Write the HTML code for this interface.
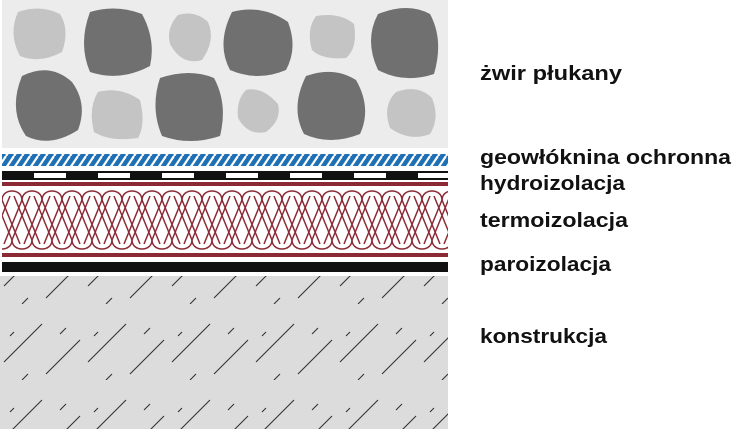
<!DOCTYPE html>
<html><head><meta charset="utf-8"><style>
html,body{margin:0;padding:0;background:#fff;width:750px;height:429px;overflow:hidden}
svg{display:block}
text{font-family:"Liberation Sans",sans-serif;font-weight:bold;font-size:20px;fill:#111}
</style></head><body>
<svg width="750" height="429" viewBox="0 0 750 429" xmlns="http://www.w3.org/2000/svg">
<defs>
<pattern id="hatch" width="8" height="12" patternUnits="userSpaceOnUse">
<rect width="8" height="12" fill="#1f6fb4"/>
<path d="M-2,12 L6,0 M6,12 L14,0" stroke="#fff" stroke-width="2.2"/>
</pattern>
<pattern id="conc" width="84" height="76" patternUnits="userSpaceOnUse">
<path d="M4,58 L42,20 M46,70 L80,36 M22,76 L28,70 M60,30 L66,24 M10,32 L14,28" stroke="#333" stroke-width="1.1" fill="none"/>
</pattern>
<pattern id="ins" x="2" y="0" width="20" height="429" patternUnits="userSpaceOnUse">
<g fill="none" stroke="#8b2a35" stroke-width="1.5">
<path d="M2,244 L20,200 C20,188 0,188 0,200 L18,244"/>
<path d="M-18,244 L0,200 C0,188 -20,188 -20,200 L-2,244"/>
<path d="M22,244 L40,200 C40,188 20,188 20,200 L38,244"/>
<path d="M-8,196 L10,240 C10,252 -10,252 -10,240 L8,196"/>
<path d="M12,196 L30,240 C30,252 10,252 10,240 L28,196"/>
</g>
</pattern>
</defs>
<!-- gravel -->
<rect x="2" y="0" width="446" height="148" fill="#ececec"/>
<g fill="#c4c4c4">
<path d="M18,12 Q40,4 60,14 Q70,30 62,52 Q40,64 20,56 Q8,34 18,12Z"/>
<path d="M178,15 Q195,10 208,22 Q216,40 202,60 Q182,66 170,44 Q166,28 178,15Z"/>
<path d="M316,16 Q340,12 354,24 Q358,48 346,58 Q322,60 312,50 Q306,30 316,16Z"/>
<path d="M98,92 Q120,86 140,100 Q146,124 138,138 Q110,142 94,132 Q88,108 98,92Z"/>
<path d="M246,90 Q262,86 278,104 Q282,120 266,132 Q248,136 238,118 Q236,100 246,90Z"/>
<path d="M396,92 Q418,84 432,98 Q440,118 430,134 Q410,142 390,128 Q382,106 396,92Z"/>
</g>
<g fill="#707070">
<path d="M90,12 Q116,4 142,14 Q156,40 150,66 Q120,82 90,72 Q78,44 90,12Z"/>
<path d="M232,12 Q262,4 288,22 Q298,48 286,70 Q258,82 230,70 Q216,44 232,12Z"/>
<path d="M378,14 Q408,2 430,14 Q444,40 434,74 Q404,84 378,70 Q364,40 378,14Z"/>
<path d="M22,76 Q50,62 72,82 Q88,104 78,130 Q50,148 26,136 Q8,110 22,76Z"/>
<path d="M160,78 Q190,68 214,78 Q228,104 220,136 Q190,146 162,136 Q150,108 160,78Z"/>
<path d="M306,76 Q334,66 356,80 Q372,108 360,134 Q330,146 304,134 Q290,108 306,76Z"/>
</g>
<!-- geotextile -->
<rect x="2" y="154" width="446" height="12" fill="url(#hatch)"/>
<!-- hydro -->
<rect x="2" y="171" width="446" height="9" fill="#111"/>
<g fill="#fff">
<rect x="34" y="173" width="32" height="5"/><rect x="98" y="173" width="32" height="5"/><rect x="162" y="173" width="32" height="5"/><rect x="226" y="173" width="32" height="5"/><rect x="290" y="173" width="32" height="5"/><rect x="354" y="173" width="32" height="5"/><rect x="418" y="173" width="30" height="5"/>
</g>
<rect x="2" y="182" width="446" height="4" fill="#8b2a35"/>
<!-- insulation -->
<rect x="2" y="188" width="446" height="63" fill="url(#ins)"/>
<rect x="2" y="253" width="446" height="4" fill="#8b2a35"/>
<rect x="2" y="262" width="446" height="10" fill="#111"/>
<!-- concrete -->
<rect x="0" y="276" width="448" height="153" fill="#dcdcdc"/>
<rect x="0" y="276" width="448" height="153" fill="url(#conc)"/>
<!-- labels -->
<text x="480" y="80" textLength="142" lengthAdjust="spacingAndGlyphs">żwir płukany</text>
<text x="480" y="164" textLength="251" lengthAdjust="spacingAndGlyphs">geowłóknina ochronna</text>
<text x="480" y="190" textLength="145" lengthAdjust="spacingAndGlyphs">hydroizolacja</text>
<text x="480" y="227" textLength="148" lengthAdjust="spacingAndGlyphs">termoizolacja</text>
<text x="480" y="271" textLength="131" lengthAdjust="spacingAndGlyphs">paroizolacja</text>
<text x="480" y="343" textLength="127" lengthAdjust="spacingAndGlyphs">konstrukcja</text>
</svg>
</body></html>
